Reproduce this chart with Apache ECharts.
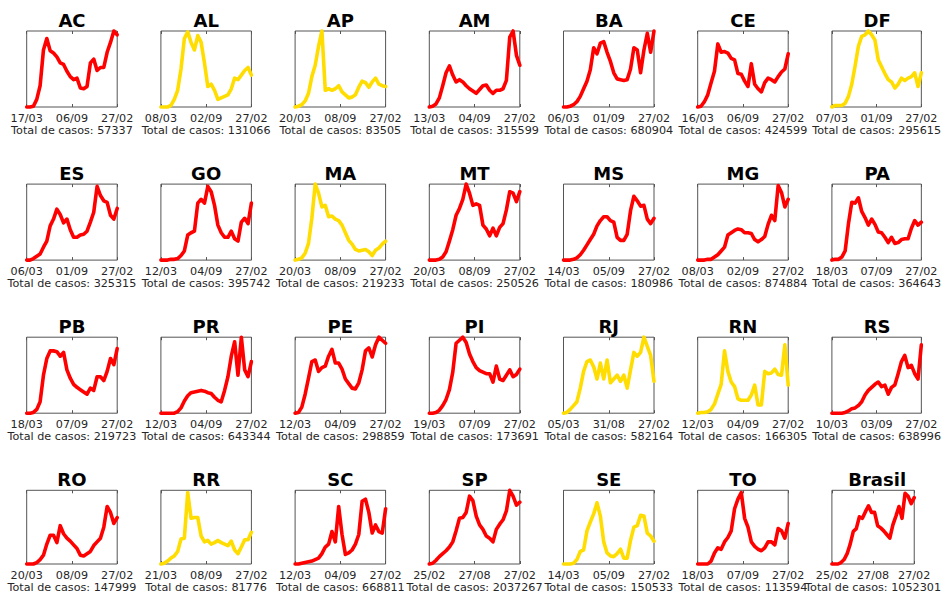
<!DOCTYPE html>
<html><head><meta charset="utf-8">
<script src="https://cdn.jsdelivr.net/npm/echarts@6/dist/echarts.min.js"></script>
<style>html,body{margin:0;padding:0;background:#fff}#c{width:943px;height:594px}</style>
</head><body><div id="c"></div><script>
// ---- data ----
const states = ['AC','AL','AP','AM','BA','CE','DF',
                'ES','GO','MA','MT','MS','MG','PA',
                'PB','PR','PE','PI','RJ','RN','RS',
                'RO','RR','SC','SP','SE','TO','Brasil'];
const startLabels = ['17/03','08/03','20/03','13/03','06/03','16/03','07/03',
                     '06/03','12/03','20/03','20/03','14/03','08/03','18/03',
                     '18/03','12/03','12/03','19/03','05/03','12/03','10/03',
                     '20/03','21/03','12/03','25/02','14/03','18/03','25/02'];
const midLabels = ['06/09','02/09','08/09','04/09','01/09','06/09','01/09',
                   '01/09','04/09','08/09','08/09','05/09','02/09','07/09',
                   '07/09','04/09','04/09','07/09','31/08','04/09','03/09',
                   '08/09','08/09','04/09','27/08','05/09','07/09','27/08'];
const endLabels = ['27/02','27/02','27/02','27/02','27/02','27/02','27/02',
                   '27/02','27/02','27/02','27/02','27/02','27/02','27/02',
                   '27/02','27/02','27/02','27/02','27/02','27/02','27/02',
                   '27/02','27/02','27/02','27/02','27/02','27/02','27/02'];
const totals = [57337,131066,83505,315599,680904,424599,295615,
                325315,395742,219233,250526,180986,874884,364643,
                219723,643344,298859,173691,582164,166305,638996,
                147999,81776,668811,2037267,150533,113594,1052301];
// yellow-flagged states
const flagged = ['AL','AP','DF','MA','RJ','RN','RR','SE'];

const AC = [0,0,1,10,28,75,90,74,71,66,58,56,47,40,36,38,25,24,27,58,63,48,52,52,72,85,100,95];
const AL = [0,0,0,2,10,22,50,90,99,85,75,94,85,58,27,30,22,10,12,14,16,24,38,36,42,48,52,42];
const AP = [0,1,3,8,18,40,55,80,100,22,24,22,24,28,20,16,12,13,16,26,34,32,26,33,38,30,28,27];
const AM = [0,1,4,12,28,45,54,42,33,36,33,28,24,21,18,23,28,29,22,18,22,22,24,35,92,100,68,55];
const BA = [0,0,1,3,7,14,24,34,49,78,70,84,86,72,60,45,37,36,35,36,50,78,75,45,75,97,72,100];
const CE = [0,1,7,16,32,47,83,72,73,71,64,62,44,43,34,27,57,30,24,20,32,38,36,33,40,46,50,70];
const DF = [0,2,2,2,5,14,30,54,80,93,95,100,95,88,62,53,44,36,33,25,30,38,35,38,40,45,27,45];
const ES = [0,0,2,5,8,17,25,45,54,67,60,49,54,40,30,30,33,34,38,50,63,97,85,78,76,59,54,68];
const GO = [0,0,0,1,1,2,6,12,33,36,38,75,80,75,97,90,72,46,36,30,30,38,28,25,50,55,48,75];
const MA = [0,1,3,9,22,55,100,88,70,72,57,58,54,52,46,36,26,21,14,12,13,14,11,6,13,16,21,25];
const MT = [0,0,0,1,4,11,25,40,59,68,80,100,88,72,74,72,46,41,32,42,32,43,48,66,90,88,77,90];
const MS = [0,0,0,1,3,7,13,20,27,34,45,52,57,57,52,50,30,26,26,34,65,84,78,71,72,54,48,55];
const MG = [0,0,0,1,1,4,7,12,17,33,36,39,41,40,36,36,35,27,24,27,31,47,59,52,98,89,70,80];
const PA = [0,1,1,4,12,48,76,75,82,64,56,46,54,47,37,36,30,23,30,22,23,27,28,28,42,52,46,50];
const PB = [0,0,1,5,15,50,72,82,82,81,75,80,57,46,38,34,31,28,25,33,30,48,48,43,55,72,64,85];
const PR = [0,0,0,0,0,2,7,16,23,27,28,29,30,29,27,26,21,17,15,30,48,75,94,50,100,57,48,68];
const PE = [0,1,8,25,46,68,70,55,60,62,75,84,66,66,58,45,39,33,32,40,57,82,86,74,90,100,96,92];
const PI = [0,0,1,4,10,18,31,54,92,96,100,93,78,68,60,56,54,52,52,41,62,45,43,50,57,48,51,58];
const RJ = [0,1,5,10,15,33,55,68,70,61,45,66,45,70,40,45,50,42,50,33,57,80,75,80,100,88,76,42];
const RN = [0,1,1,2,5,12,25,38,82,55,41,35,19,17,17,17,24,37,11,11,55,52,53,58,51,50,90,37];
const RS = [0,0,0,0,1,3,6,7,10,15,24,30,34,38,41,35,37,25,34,37,52,68,76,60,63,52,45,90];
const RO = [0,0,0,2,6,12,27,39,39,29,52,41,35,31,26,21,12,11,14,17,25,30,35,50,78,70,55,63];
const RR = [0,1,4,8,11,17,34,35,97,62,63,63,38,30,32,27,29,32,29,27,25,31,19,14,23,33,33,43];
const SC = [0,0,1,2,3,4,6,8,14,23,27,44,30,78,40,13,15,19,27,40,85,88,70,42,53,44,42,75];
const SP = [0,1,5,10,14,18,23,30,45,62,63,70,92,86,65,53,47,38,35,30,47,54,60,72,100,92,80,84];
const SE = [0,0,0,1,6,17,19,45,57,68,83,65,30,15,11,10,14,20,8,8,32,50,52,66,65,42,38,31];
const TO = [0,0,0,0,4,15,22,20,30,36,45,75,88,97,62,50,30,24,20,18,22,30,30,26,48,45,35,55];
const Brasil = [0,0,0,2,6,14,27,44,48,64,62,71,79,70,70,52,49,45,40,35,53,65,78,62,96,92,82,90];

const values = [AC,AL,AP,AM,BA,CE,DF,ES,GO,MA,MT,MS,MG,PA,PB,PR,PE,PI,RJ,RN,RS,RO,RR,SC,SP,SE,TO,Brasil];

// ---- layout / style ----
const FONT = 'DejaVu Sans';
const left0 = 26.7, dx = 134.2, top0 = 31, dy = 153.1, W = 90.5, H = 76;
const RED = '#ff0000', YELLOW = '#ffdd00', BOX = '#555555', TXT = '#262626';

const grids = [], xAxes = [], yAxes = [], series = [], titles = [];
states.forEach((s, i) => {
  const col = i % 7, row = Math.floor(i / 7);
  const data = values[i], n = data.length;
  const L = left0 + col * dx, T = top0 + row * dy;
  const color = flagged.includes(s) ? YELLOW : RED;
  grids.push({left: L, top: T, width: W, height: H, show: true,
    borderColor: BOX, borderWidth: 1, backgroundColor: 'transparent'});
  xAxes.push({gridIndex: i, type: 'value', min: 0, max: n - 1, interval: (n - 1) / 2,
    position: 'bottom',
    axisLine: {show: false},
    axisTick: {show: true, inside: true, length: 3, lineStyle: {color: BOX}},
    splitLine: {show: false},
    axisLabel: {show: true, showMinLabel: true, showMaxLabel: true, margin: 5.5,
      color: TXT, fontSize: 11.2, fontFamily: FONT,
      formatter: v => v === 0 ? startLabels[i] : (v === n - 1 ? endLabels[i] : midLabels[i])},
    name: 'Total de casos: ' + totals[i], nameLocation: 'middle', nameGap: 18,
    nameTextStyle: {color: TXT, fontSize: 11.2, fontFamily: FONT, verticalAlign: 'top'}
  });
  xAxes.push({gridIndex: i, type: 'value', min: 0, max: n - 1, interval: (n - 1) / 2,
    position: 'top', axisLine: {show: false},
    axisTick: {show: true, inside: true, length: 3, lineStyle: {color: BOX}},
    axisLabel: {show: false}, splitLine: {show: false}});
  yAxes.push({gridIndex: i, type: 'value', min: 0, max: 100, show: false});
  series.push({type: 'line', xAxisIndex: 2 * i, yAxisIndex: i,
    data: data.map((v, k) => [k, v]), symbol: 'none', showSymbol: false, clip: false,
    silent: true, lineStyle: {color: color, width: 3.6, join: 'round', cap: 'round'}});
  titles.push({text: s, left: L + W / 2, top: T - 20, textAlign: 'center', padding: 0,
    textStyle: {color: '#000', fontSize: 18, fontWeight: 'bold', fontFamily: FONT}});
});

const chart = echarts.init(document.getElementById('c'), null, {renderer: 'svg'});
chart.setOption({animation: false, backgroundColor: '#fff',
  title: titles, grid: grids, xAxis: xAxes, yAxis: yAxes, series: series});
</script></body></html>
